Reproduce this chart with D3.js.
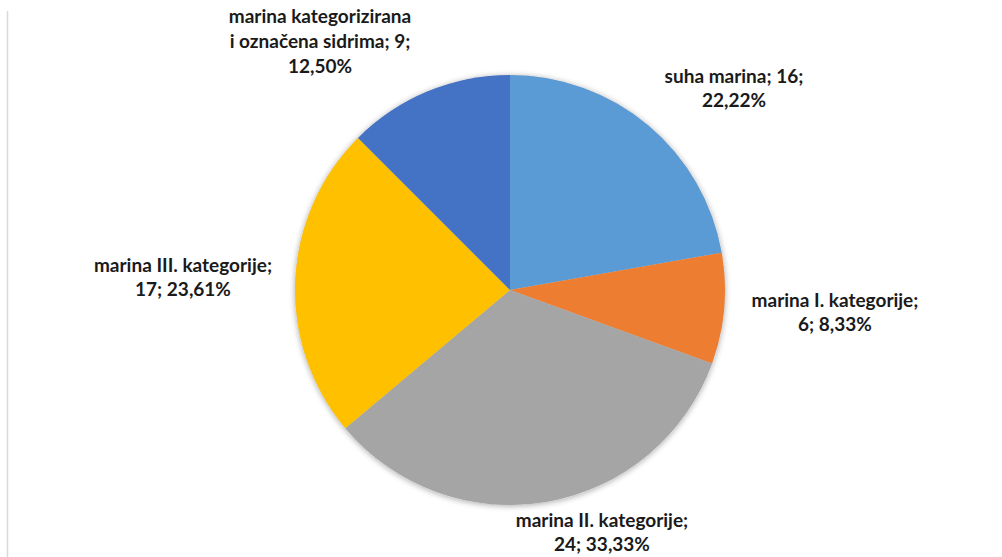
<!DOCTYPE html>
<html><head><meta charset="utf-8">
<script src="https://cdn.jsdelivr.net/npm/d3@7"></script>
<style>html,body{margin:0;padding:0;background:#fff;}svg{display:block;}</style>
</head><body>
<svg id="chart" width="1002" height="557"></svg>
<script>
const categories = ["suha marina", "marina I. kategorije", "marina II. kategorije", "marina III. kategorije", "marina kategorizirana i označena sidrima"];
const values = [16, 6, 24, 17, 9];
const percents = ["22,22%", "8,33%", "33,33%", "23,61%", "12,50%"];
const colors = ["#5B9BD5", "#ED7D31", "#A5A5A5", "#FFC000", "#4472C4"];
const labelLines = [
  ["suha marina; 16;", "22,22%"],
  ["marina I. kategorije;", "6; 8,33%"],
  ["marina II. kategorije;", "24; 33,33%"],
  ["marina III. kategorije;", "17; 23,61%"],
  ["marina kategorizirana", "i označena sidrima; 9;", "12,50%"]
];
const labelPos = [[734, 83], [835, 307], [602, 527], [183, 272], [320, 23]];

const svg = d3.select("#chart");
const cx = 510, cy = 290, r = 215;

svg.append("line").attr("x1", 7.5).attr("x2", 7.5).attr("y1", 11).attr("y2", 557)
  .attr("stroke", "#d9d9d9").attr("stroke-width", 1.5);

const defs = svg.append("defs");
const f = defs.append("filter").attr("id", "sh").attr("x", "-20%").attr("y", "-20%").attr("width", "140%").attr("height", "140%");
f.append("feGaussianBlur").attr("in", "SourceAlpha").attr("stdDeviation", 3);
f.append("feOffset").attr("dx", 0).attr("dy", 1).attr("result", "b");
f.append("feComponentTransfer").append("feFuncA").attr("type", "linear").attr("slope", 0.35);
const m = f.append("feMerge");
m.append("feMergeNode");
m.append("feMergeNode").attr("in", "SourceGraphic");

const pie = d3.pie().sort(null).value(d => d);
const arc = d3.arc().innerRadius(0).outerRadius(r);
const g = svg.append("g").attr("transform", `translate(${cx},${cy})`);
const arcs = pie(values);
g.append("circle").attr("r", r).attr("fill", "#ccc").attr("filter", "url(#sh)");
g.selectAll("path").data(arcs).enter().append("path")
  .attr("d", arc).attr("fill", (d, i) => colors[i]);

const lh = 24;
labelLines.forEach((lines, i) => {
  const t = svg.append("text").attr("text-anchor", "middle")
    .attr("font-family", "Lato, 'Open Sans', sans-serif").attr("font-weight", "bold")
    .attr("font-size", 19).attr("fill", "#1a1a1a");
  lines.forEach((s, j) => {
    t.append("tspan").attr("x", labelPos[i][0]).attr("y", labelPos[i][1] + j * (i === 4 ? 25 : lh)).text(s);
  });
});
</script>
</body></html>
